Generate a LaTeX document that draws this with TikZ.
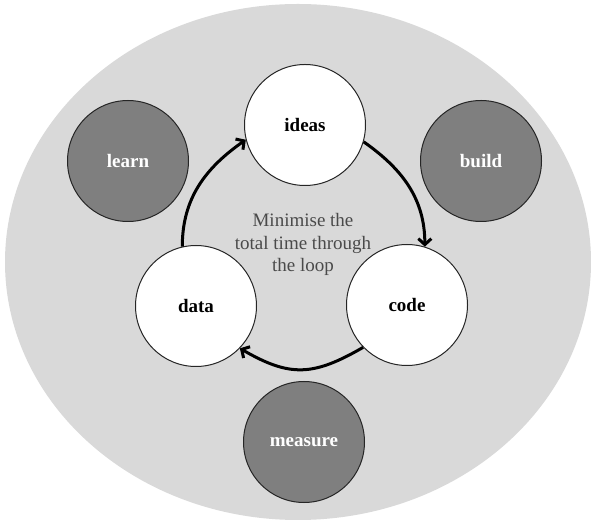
\documentclass[tikz,border=0pt]{standalone}
\usepackage{fontspec}
\setmainfont{Liberation Serif}
\usetikzlibrary{arrows.meta}
\definecolor{bggray}{HTML}{D9D9D9}
\definecolor{ringgray}{HTML}{7F7F7F}
\definecolor{notegray}{HTML}{4A4A4A}
\begin{document}
\begin{tikzpicture}[x=1pt,y=1pt,
  stage/.style={circle, draw=black!85, line width=1pt, minimum size=121pt,
    inner sep=0pt, font=\bfseries\fontsize{19}{22}\selectfont},
  inner/.style={stage, fill=white, text=black},
  outer/.style={stage, fill=ringgray, text=white},
  loop/.style={line width=3pt, -{Straight Barb[length=6pt,width=13pt]}},
  note/.style={font=\fontsize{19}{22.5}\selectfont, text=notegray, align=center}]
\useasboundingbox (0,0) rectangle (591,519);
% background ellipse
\fill[bggray] (298,257) ellipse [x radius=293, y radius=258];

% the loop stages
\node[inner] (ideas) at (305,394) {ideas};
\node[inner] (code)  at (407,214) {code};
\node[inner] (data)  at (196,213) {data};

% surrounding activities
\node[outer] (learn)   at (128,358) {learn};
\node[outer] (build)   at (481,358) {build};
\node[outer] (measure) at (304,77)  {measure};

% loop arrows
\draw[loop] (data.103) to[out=90, in=215] (ideas.194);
\draw[loop] (ideas.-16) to[out=-35, in=90] (code.73);
\draw[loop] (code.224) to[out=210, in=-30, looseness=1.2] (data.-44);

% centre note
\node[note] (goal) at (303,274.5) {Minimise the\\total time through\\the loop};
\end{tikzpicture}
\end{document}
